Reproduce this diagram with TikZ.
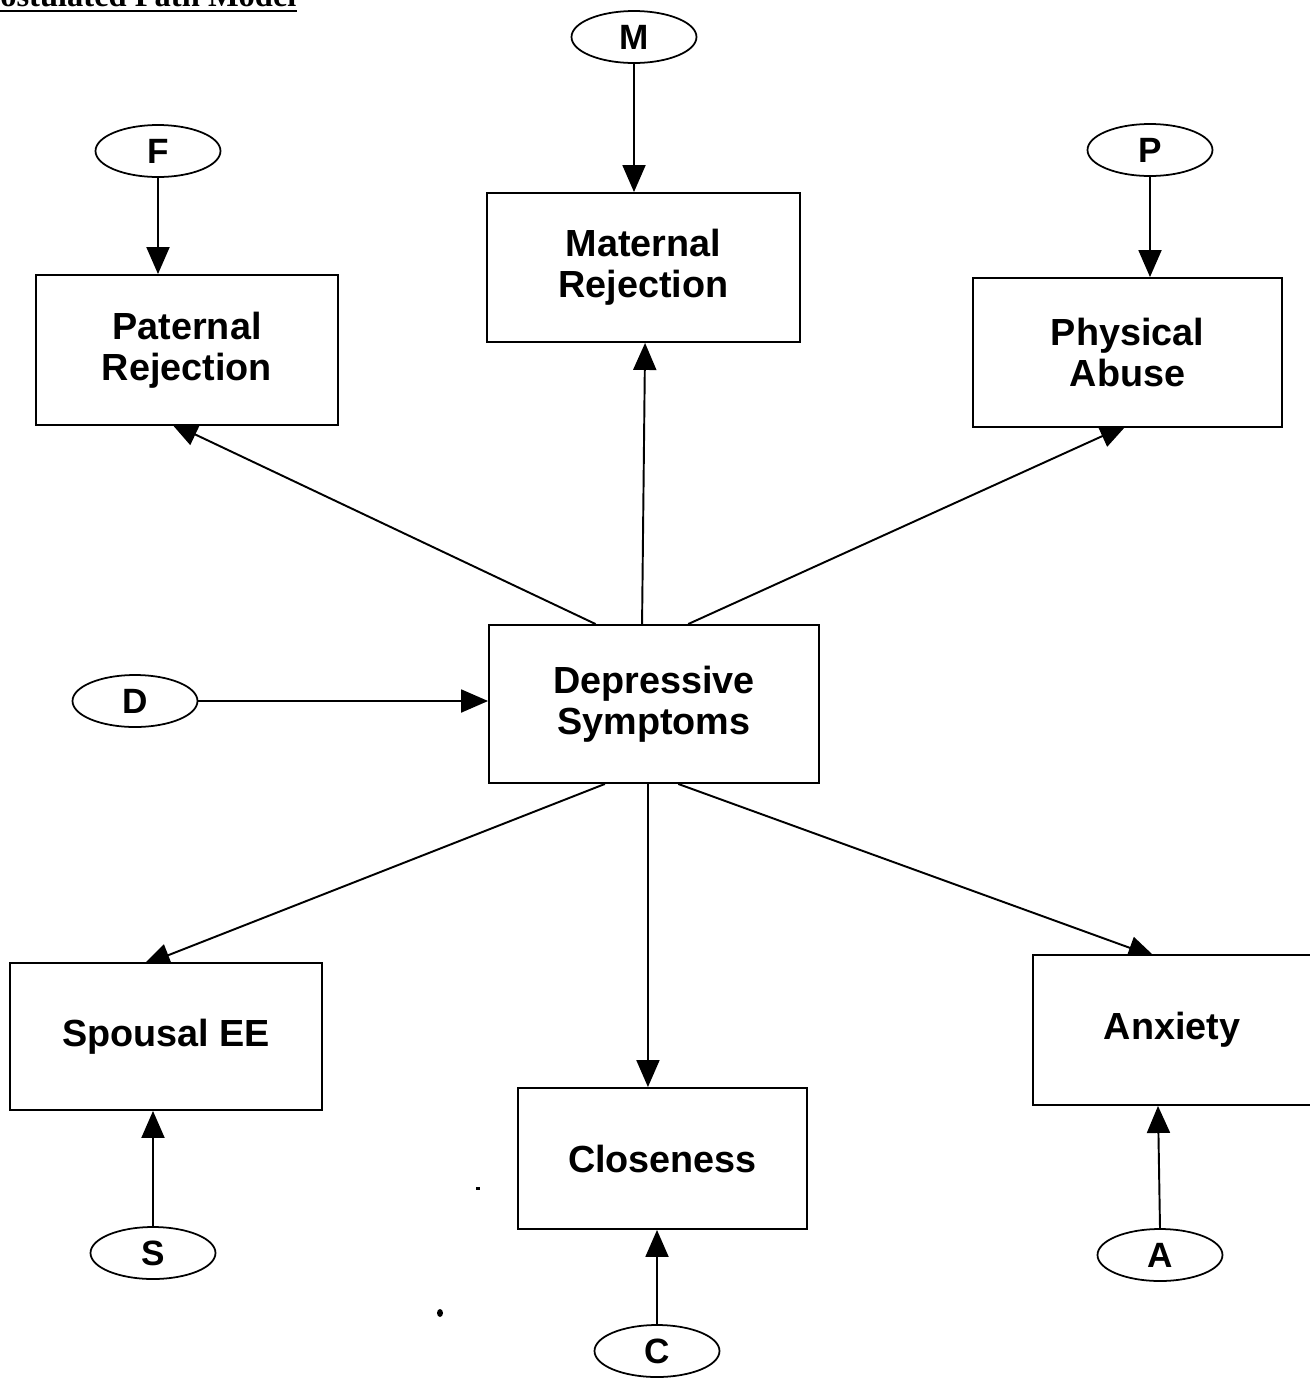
\documentclass[tikz,border=0pt]{standalone}
\usepackage{fontspec}
\setmainfont{Liberation Sans}
\newfontfamily\titlefont{Liberation Serif}
\usetikzlibrary{arrows.meta,calc,shapes.geometric}
\pgfdeclarelayer{bg}
\pgfsetlayers{bg,main}

\begin{document}
\begin{tikzpicture}[x=0.02cm,y=-0.02cm,
  varbox/.style={draw, fill=white, rectangle, line width=1.1pt, inner sep=0pt,
    align=center, font=\fontsize{21.5}{23.5}\selectfont\bfseries},
  errvar/.style={draw, fill=white, ellipse, line width=1pt, inner sep=0pt,
    minimum width=2.5cm, minimum height=1.04cm, font=\fontsize{20}{21}\selectfont\bfseries},
  pathline/.style={line width=1.1pt, -{Triangle[length=0.54cm,width=0.46cm]}}
]
\useasboundingbox (0,0) rectangle (1309,1380);

% heading, clipped by the page edge
\node[anchor=base west, inner sep=0pt, font=\titlefont\fontsize{18.5}{19}\selectfont\bfseries]
  (title) at (0,6) {ostulated Path Model};
\draw[line width=1.2pt] ([yshift=-2.6pt]title.base west) -- ([yshift=-2.6pt]title.base east);

% observed variables
\node[varbox, minimum width=6.26cm, minimum height=2.98cm] (mat) at (643.5,267.5) {Maternal\\Rejection};
\node[varbox, minimum width=6.04cm, minimum height=3.0cm]  (pat) at (187,350) {Paternal\\Rejection};
\node[varbox, minimum width=6.18cm, minimum height=2.98cm] (phy) at (1127.5,352.5) {Physical\\Abuse};
\node[varbox, minimum width=6.6cm,  minimum height=3.16cm] (dep) at (654,704) {Depressive\\Symptoms};
\node[varbox, minimum width=6.24cm, minimum height=2.94cm] (spo) at (166,1036.5) {Spousal EE};
\node[varbox, minimum width=5.78cm, minimum height=2.82cm] (clo) at (662.5,1158.5) {Closeness};
\node[varbox, minimum width=5.56cm, minimum height=3.0cm]  (anx) at (1172,1030) {Anxiety};

% disturbance terms
\node[errvar] (M) at (634,37) {M};
\node[errvar] (F) at (158,151) {F};
\node[errvar] (P) at (1150,150) {P};
\node[errvar] (D) at (135,701) {D};
\node[errvar] (S) at (153,1253) {S};
\node[errvar] (C) at (657,1351) {C};
\node[errvar] (A) at (1160,1255) {A};

% end points on the box edges
\coordinate (dTl) at ($(dep.north west)!0.324!(dep.north east)$);
\coordinate (dTm) at ($(dep.north west)!0.464!(dep.north east)$);
\coordinate (dTr) at ($(dep.north west)!0.603!(dep.north east)$);
\coordinate (dBl) at ($(dep.south west)!0.352!(dep.south east)$);
\coordinate (dBm) at ($(dep.south west)!0.482!(dep.south east)$);
\coordinate (dBr) at ($(dep.south west)!0.573!(dep.south east)$);
\coordinate (patB) at ($(pat.south west)!0.447!(pat.south east)$);
\coordinate (matB) at ($(mat.south west)!0.505!(mat.south east)$);
\coordinate (phyB) at ($(phy.south west)!0.498!(phy.south east)$);
\coordinate (spoT) at ($(spo.north west)!0.427!(spo.north east)$);
\coordinate (cloT) at ($(clo.north west)!0.45!(clo.north east)$);
\coordinate (anxT) at ($(anx.north west)!0.44!(anx.north east)$);

\begin{pgfonlayer}{bg}
  % disturbances into their variables
  \draw[pathline] (M.south) -- (M.south |- mat.north);
  \draw[pathline] (F.south) -- (F.south |- pat.north);
  \draw[pathline] (P.south) -- (P.south |- phy.north);
  \draw[pathline] (D.east) -- (D.east -| dep.west);
  \draw[pathline] (S.north) -- (S.north |- spo.south);
  \draw[pathline] (C.north) -- (C.north |- clo.south);
  \draw[pathline] (A.north) -- ([xshift=-2*0.02cm]A.north |- anx.south);
  % paths from depressive symptoms
  \draw[pathline] (dTl) -- ([shift={(0,-3)}]patB);
  \draw[pathline] (dTm) -- (matB);
  \draw[pathline] (dTr) -- ([shift={(0,-3)}]phyB);
  \draw[pathline] (dBl) -- ([shift={(0,3)}]spoT);
  \draw[pathline] (dBm) -- (cloT);
  \draw[pathline] (dBr) -- ([shift={(0,3)}]anxT);
\end{pgfonlayer}

% specks
\fill (476,1187) rectangle (480,1189.5);
\fill (440,1313) ellipse [x radius=3, y radius=4];
\end{tikzpicture}
\end{document}
